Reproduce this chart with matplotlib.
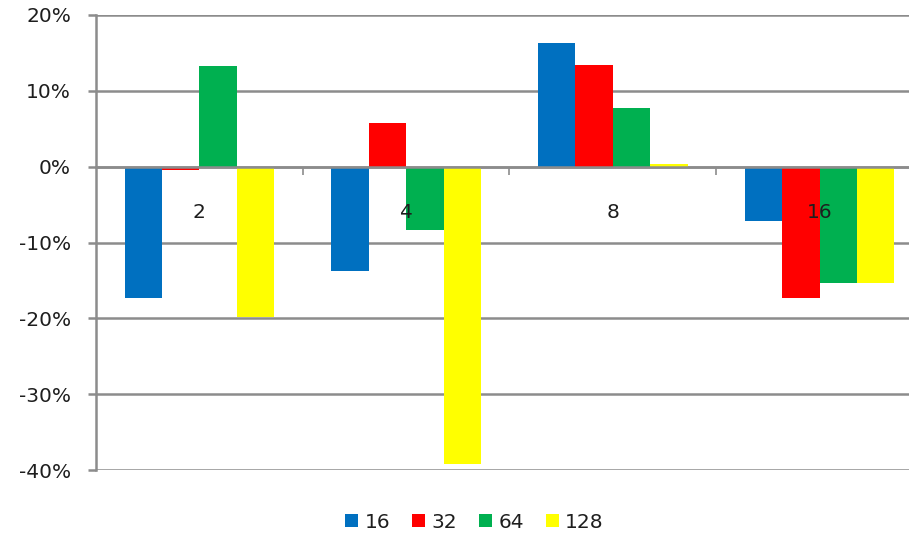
import numpy as np
import matplotlib
matplotlib.use("Agg")
import matplotlib.pyplot as plt
from matplotlib.ticker import FuncFormatter

# data (percent)
categories = ["2", "4", "8", "16"]
series_names = ["16", "32", "64", "128"]
s16 = [-17.3, -13.8, 16.3, -7.1]
s32 = [-0.4, 5.7, 13.4, -17.3]
s64 = [13.3, -8.4, 7.8, -15.3]
s128 = [-19.8, -39.2, 0.35, -15.3]
colors = ["#0070C0", "#FF0000", "#00B050", "#FFFF00"]

values = [s16, s32, s64, s128]

plt.rcParams["font.family"] = ["DejaVu Sans"]
W, H = 909, 535
fig = plt.figure(figsize=(W / 100, H / 100), dpi=100)
# plot area runs past the right edge of the picture, like the reference
ax = fig.add_axes([96 / W, 1 - 470 / H, 827 / W, 455 / H])

x = np.arange(len(categories))
bw = 0.181
handles = []
for i, (vals, col) in enumerate(zip(values, colors)):
    b = ax.bar(x + (i - 1.5) * bw, vals, bw, color=col, zorder=3, linewidth=0)
    handles.append(b)

ax.set_xlim(-0.5, 3.5)
ax.set_ylim(-40, 20)
ax.set_yticks(np.arange(-40, 21, 10))
ax.yaxis.set_major_formatter(FuncFormatter(lambda v, p: f"{v:.0f}%"))
gcol = "#8c8c8c"
tcol = "#1e1e1e"
fs = 14.5
ax.grid(axis="y", color=gcol, linewidth=1.8, zorder=0)
ax.set_axisbelow(True)
ax.tick_params(axis="y", length=6, width=1.8, color=gcol, pad=12,
               labelsize=fs, labelcolor=tcol)

for s in ["top", "right"]:
    ax.spines[s].set_visible(False)
ax.spines["left"].set_color(gcol)
ax.spines["left"].set_linewidth(1.8)
ax.spines["bottom"].set_position(("data", 0))
ax.spines["bottom"].set_color(gcol)
ax.spines["bottom"].set_linewidth(1.8)
ax.spines["bottom"].set_zorder(4)

# boundary ticks on the zero line, category labels at centers (drawn over bars)
ax.set_xticks(x + 0.5)
ax.set_xticklabels([])
ax.set_xticks(x, minor=True)
ax.set_xticklabels(categories, minor=True)
ax.tick_params(axis="x", which="major", length=6, width=1.2, color=gcol, direction="out")
ax.tick_params(axis="x", which="minor", length=0, pad=26.5, labelsize=fs, labelcolor=tcol)
ax.xaxis.set_zorder(5)

fig.legend(handles, series_names, loc="center", bbox_to_anchor=(0.522, 0.024), ncol=4,
           frameon=False, fontsize=fs, handlelength=0.65, handleheight=0.65,
           handletextpad=0.3, columnspacing=1.1, labelcolor=tcol)

fig.savefig("out.png", dpi=100)
